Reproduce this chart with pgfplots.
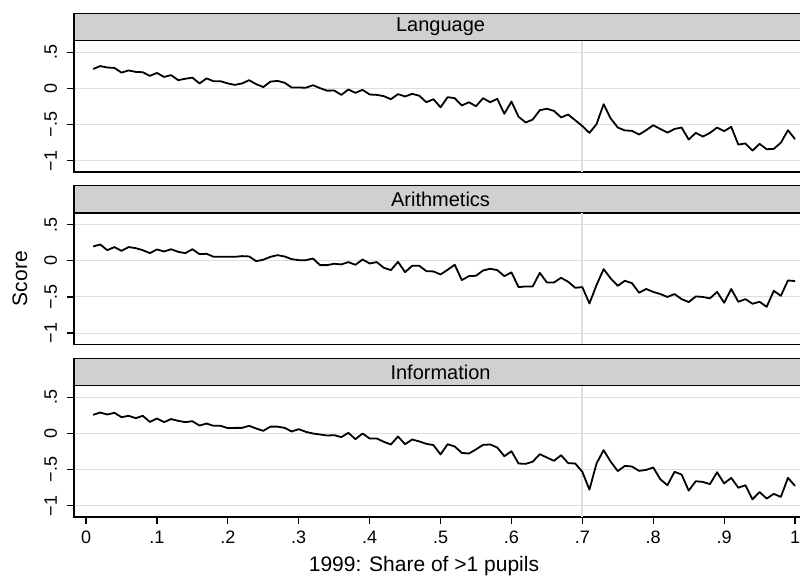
\documentclass[border=0pt]{standalone}
\usepackage{pgfplots}
\pgfplotsset{compat=1.18}
\usepackage{pgfplotstable}
\usepackage{fontspec}
\setmainfont{Liberation Sans}

\definecolor{gridgray}{RGB}{222,222,222}
\definecolor{bargray}{RGB}{208,208,208}

% share of >1 pupils, mean scores by subject
\pgfplotstableread{
x lang arith info
0.01 0.27 0.198 0.258
0.02 0.31 0.226 0.29
0.03 0.29 0.147 0.263
0.04 0.285 0.19 0.286
0.05 0.22 0.138 0.226
0.06 0.25 0.19 0.245
0.07 0.23 0.175 0.212
0.08 0.225 0.147 0.245
0.09 0.175 0.106 0.16
0.10 0.215 0.157 0.208
0.11 0.16 0.129 0.157
0.12 0.185 0.16 0.2
0.13 0.115 0.124 0.175
0.14 0.135 0.106 0.157
0.15 0.15 0.16 0.17
0.16 0.07 0.092 0.11
0.17 0.14 0.097 0.138
0.18 0.10 0.055 0.106
0.19 0.10 0.055 0.106
0.20 0.07 0.055 0.074
0.21 0.05 0.055 0.078
0.22 0.07 0.065 0.078
0.23 0.115 0.06 0.106
0.24 0.06 -0.005 0.069
0.25 0.02 0.015 0.037
0.26 0.095 0.055 0.095
0.27 0.105 0.078 0.095
0.28 0.08 0.06 0.078
0.29 0.014 0.023 0.028
0.30 0.014 0.009 0.06
0.31 0.01 0.009 0.023
0.32 0.046 0.032 0
0.33 0.005 -0.06 -0.014
0.34 -0.03 -0.06 -0.028
0.35 -0.028 -0.041 -0.023
0.36 -0.088 -0.05 -0.05
0.37 -0.014 -0.018 0.009
0.38 -0.06 -0.055 -0.078
0.39 -0.018 0.018 0
0.40 -0.083 -0.037 -0.069
0.41 -0.088 -0.018 -0.069
0.42 -0.106 -0.097 -0.115
0.43 -0.148 -0.129 -0.152
0.44 -0.078 -0.014 -0.041
0.45 -0.11 -0.157 -0.148
0.46 -0.074 -0.069 -0.083
0.47 -0.10 -0.069 -0.11
0.48 -0.19 -0.143 -0.143
0.49 -0.148 -0.147 -0.16
0.50 -0.26 -0.189 -0.29
0.51 -0.12 -0.124 -0.148
0.52 -0.134 -0.055 -0.18
0.53 -0.235 -0.267 -0.268
0.54 -0.19 -0.212 -0.277
0.55 -0.245 -0.207 -0.22
0.56 -0.134 -0.134 -0.157
0.57 -0.19 -0.11 -0.152
0.58 -0.143 -0.129 -0.194
0.59 -0.35 -0.212 -0.314
0.60 -0.18 -0.16 -0.245
0.61 -0.39 -0.364 -0.415
0.62 -0.47 -0.355 -0.42
0.63 -0.43 -0.355 -0.39
0.64 -0.30 -0.166 -0.286
0.65 -0.28 -0.30 -0.332
0.66 -0.31 -0.30 -0.378
0.67 -0.40 -0.235 -0.30
0.68 -0.36 -0.29 -0.41
0.69 -0.44 -0.373 -0.415
0.70 -0.52 -0.364 -0.53
0.71 -0.614 -0.59 -0.776
0.72 -0.494 -0.336 -0.415
0.73 -0.217 -0.115 -0.23
0.74 -0.415 -0.244 -0.39
0.75 -0.54 -0.346 -0.52
0.76 -0.58 -0.276 -0.448
0.77 -0.586 -0.309 -0.457
0.78 -0.637 -0.442 -0.517
0.79 -0.577 -0.39 -0.503
0.80 -0.508 -0.43 -0.47
0.81 -0.56 -0.46 -0.633
0.82 -0.61 -0.50 -0.716
0.83 -0.56 -0.46 -0.53
0.84 -0.54 -0.53 -0.568
0.85 -0.706 -0.571 -0.79
0.86 -0.614 -0.493 -0.66
0.87 -0.665 -0.50 -0.67
0.88 -0.614 -0.52 -0.70
0.89 -0.54 -0.43 -0.536
0.90 -0.59 -0.58 -0.69
0.91 -0.53 -0.39 -0.614
0.92 -0.776 -0.567 -0.75
0.93 -0.76 -0.53 -0.716
0.94 -0.86 -0.594 -0.91
0.95 -0.766 -0.567 -0.81
0.96 -0.84 -0.636 -0.90
0.97 -0.835 -0.415 -0.835
0.98 -0.75 -0.484 -0.877
0.99 -0.577 -0.272 -0.614
1.00 -0.70 -0.28 -0.725
}\scores

\tikzset{
  vline/.style={gridgray, line width=1pt},
  series/.style={black, line width=0.9pt, line join=round},
}
\pgfplotsset{
  panel/.style={
    scale only axis, width=366.55pt, height=65.6pt,
    xmin=-0.017, xmax=1.017, ymin=-1.155, ymax=0.66,
    ytick={-1,-0.5,0,0.5}, yticklabels={−1,−.5,0,.5},
    ytick pos=left, xtick pos=bottom,
    tick align=outside, major tick length=3.5pt,
    ymajorgrids, grid style={gridgray, line width=0.5pt},
    axis line style={line width=0.7pt},
    tick style={black, line width=0.6pt},
    /pgf/number format/assume math mode=true,
    yticklabel style={rotate=90, anchor=south, font=\fontsize{9}{10}\selectfont},
    yticklabel shift=1.5pt,
    xticklabel style={font=\fontsize{9}{10}\selectfont},
    every axis title/.style={at={(0.5,1)}, anchor=south, fill=bargray, draw=black,
      line width=0.6pt, minimum width=366.55pt, minimum height=13.3pt,
      inner sep=0pt, font=\fontsize{10}{12}\selectfont},
  },
}

\begin{document}
\begin{tikzpicture}
\useasboundingbox (0,-288pt) rectangle (400pt,0);

\begin{axis}[panel, at={(37pt,-86pt)}, anchor=south west,
  title={Language}, xtick=\empty]
\draw[vline] (axis cs:0.7,-1.155) -- (axis cs:0.7,0.66);
\addplot[series, mark=none] table[x=x, y=lang] {\scores};
\end{axis}

\begin{axis}[panel, at={(37pt,-172.15pt)}, anchor=south west,
  title={Arithmetics}, xtick=\empty,
  ylabel={Score},
  ylabel style={at={(rel axis cs:-0.0737,0.5)}, anchor=center,
    font=\fontsize{10.5}{12}\selectfont}]
\draw[vline] (axis cs:0.7,-1.155) -- (axis cs:0.7,0.66);
\addplot[series, mark=none] table[x=x, y=arith] {\scores};
\end{axis}

\begin{axis}[panel, at={(37pt,-258.5pt)}, anchor=south west,
  title={Information},
  xtick={0,0.1,0.2,0.3,0.4,0.5,0.6,0.7,0.8,0.9,1},
  xticklabels={0,.1,.2,.3,.4,.5,.6,.7,.8,.9,1},
  xlabel={1999: Share of >1 pupils},
  xlabel style={at={(rel axis cs:0.4774,0)}, anchor=base, yshift=-27.5pt,
    font=\fontsize{10.5}{12}\selectfont}]
\draw[vline] (axis cs:0.7,-1.155) -- (axis cs:0.7,0.66);
\addplot[series, mark=none] table[x=x, y=info] {\scores};
\end{axis}
\end{tikzpicture}
\end{document}
